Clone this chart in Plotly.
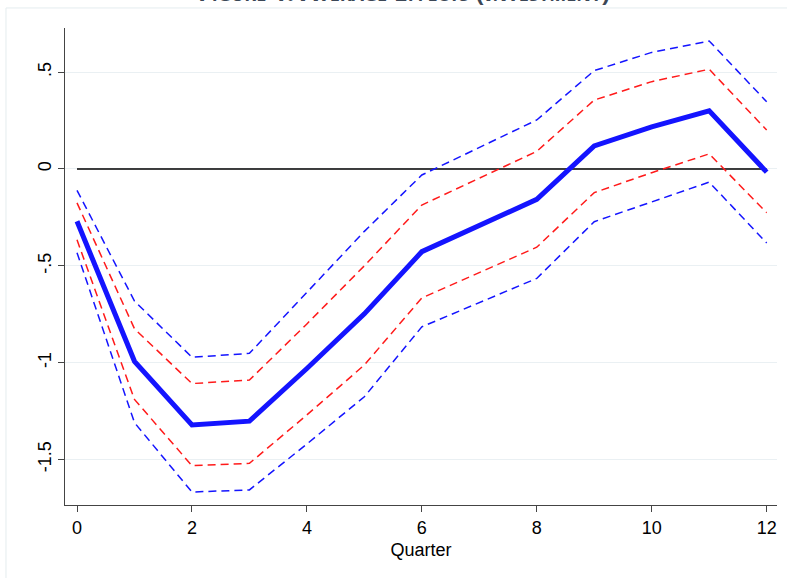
import plotly.graph_objects as go

# Event-time horizon (quarters after the shock)
quarter = list(range(13))

# Point estimates and confidence bands
coef = [-0.270, -0.993, -1.322, -1.302, -1.030, -0.748, -0.427, -0.292, -0.157, 0.119, 0.218, 0.300, -0.016]
ci95_hi = [-0.110, -0.682, -0.972, -0.952, -0.637, -0.322, -0.031, 0.111, 0.253, 0.508, 0.602, 0.661, 0.347]
ci90_hi = [-0.175, -0.825, -1.108, -1.090, -0.800, -0.500, -0.186, -0.048, 0.091, 0.356, 0.451, 0.515, 0.201]
ci90_lo = [-0.366, -1.190, -1.532, -1.520, -1.270, -1.012, -0.666, -0.535, -0.404, -0.122, -0.019, 0.078, -0.226]
ci95_lo = [-0.432, -1.310, -1.668, -1.657, -1.420, -1.176, -0.815, -0.690, -0.565, -0.272, -0.168, -0.068, -0.382]

# Axis ticks
x_ticks = [0, 2, 4, 6, 8, 10, 12]
y_ticks = [0.5, 0, -0.5, -1, -1.5]
y_tick_labels = [".5", "0", "-.5", "-1", "-1.5"]

BLUE = "#1414ff"
RED = "#ff1a1a"
DASH = "8px,5px"

fig = go.Figure()

# Reference line at zero
fig.add_trace(go.Scatter(x=[quarter[0], quarter[-1]], y=[0, 0], mode="lines",
                         line=dict(color="black", width=1.6), hoverinfo="skip"))

for band, color in [(ci95_hi, BLUE), (ci90_hi, RED), (ci90_lo, RED), (ci95_lo, BLUE)]:
    fig.add_trace(go.Scatter(x=quarter, y=band, mode="lines",
                             line=dict(color=color, width=1.5, dash=DASH)))

fig.add_trace(go.Scatter(x=quarter, y=coef, mode="lines",
                         line=dict(color=BLUE, width=5)))

tick_font = dict(family="Liberation Sans, Arial, sans-serif", size=18, color="black")

fig.update_layout(
    width=787, height=578,
    margin=dict(l=65, r=10, t=28, b=73),
    paper_bgcolor="white", plot_bgcolor="white",
    showlegend=False,
    xaxis=dict(range=[-0.209, 12.18], tickvals=x_ticks, ticks="outside", ticklen=6,
               tickwidth=1.2, tickcolor="#444", showline=True, linecolor="#444",
               linewidth=1.4, showgrid=False, zeroline=False, tickfont=tick_font,
               title=dict(text="Quarter", font=tick_font, standoff=6)),
    yaxis=dict(range=[-1.735, 0.728], tickvals=y_ticks, ticktext=y_tick_labels,
               tickangle=-90, ticks="outside", ticklen=6, tickwidth=1.2, tickcolor="#444",
               showline=True, linecolor="#444", linewidth=1.4, showgrid=True,
               gridcolor="#eaf0f3", gridwidth=1, zeroline=False, tickfont=tick_font),
)

# Page frame and heading running off the top of the page
fig.add_shape(type="line", xref="paper", yref="paper", x0=-0.0829, x1=1.02,
              y0=1.042, y1=1.042, line=dict(color="#e4ecef", width=1))
fig.add_shape(type="line", xref="paper", yref="paper", x0=-0.0829, x1=-0.0829,
              y0=1.042, y1=-0.16, line=dict(color="#e4ecef", width=1))

fig.add_annotation(text="Figure 1: Average Effects (Investment)", xref="paper", yref="paper",
                   x=0.476, y=1.038, xanchor="center", yanchor="bottom", showarrow=False,
                   font=dict(family="Open Sans, sans-serif", size=25, weight="bold",
                             variant="small-caps", color="#3b4756"))

fig.write_html("out.html")
